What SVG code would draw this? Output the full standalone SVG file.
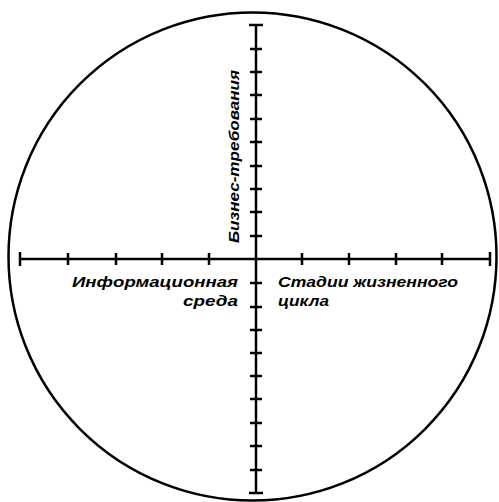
<svg xmlns="http://www.w3.org/2000/svg" width="499" height="502" viewBox="0 0 499 502">
<style>
.ln{stroke:#000;stroke-width:2.5;fill:none}
.tk{stroke:#000;stroke-width:2.5}
.lb{font-family:"Liberation Sans",Arial,sans-serif;font-weight:bold;font-style:italic;font-size:15px;fill:#000}
</style>
<rect width="499" height="502" fill="#fff"/>
<g id="circle"><circle cx="252.5" cy="256.5" r="244" class="ln" stroke-width="3.5"/></g>
<g id="axes">
<line x1="20" y1="259" x2="490" y2="259" class="ln"/>
<line x1="256" y1="25" x2="256" y2="493" class="ln" stroke-width="3"/>
<g class="tk">
<line x1="20" y1="252" x2="20" y2="266"/>
<line x1="68" y1="253" x2="68" y2="265"/>
<line x1="116" y1="253" x2="116" y2="265"/>
<line x1="162" y1="253" x2="162" y2="265"/>
<line x1="209" y1="253" x2="209" y2="265"/>
<line x1="302" y1="253" x2="302" y2="265"/>
<line x1="349" y1="253" x2="349" y2="265"/>
<line x1="396" y1="253" x2="396" y2="265"/>
<line x1="442" y1="253" x2="442" y2="265"/>
<line x1="490" y1="252" x2="490" y2="266"/>
<line x1="249" y1="25" x2="263" y2="25"/>
<line x1="250" y1="49" x2="262" y2="49"/>
<line x1="250" y1="72" x2="262" y2="72"/>
<line x1="250" y1="95" x2="262" y2="95"/>
<line x1="250" y1="119" x2="262" y2="119"/>
<line x1="250" y1="142" x2="262" y2="142"/>
<line x1="250" y1="166" x2="262" y2="166"/>
<line x1="250" y1="189" x2="262" y2="189"/>
<line x1="250" y1="212" x2="262" y2="212"/>
<line x1="250" y1="236" x2="262" y2="236"/>
<line x1="250" y1="283" x2="262" y2="283"/>
<line x1="250" y1="307" x2="262" y2="307"/>
<line x1="250" y1="330" x2="262" y2="330"/>
<line x1="250" y1="353" x2="262" y2="353"/>
<line x1="250" y1="376" x2="262" y2="376"/>
<line x1="250" y1="399" x2="262" y2="399"/>
<line x1="250" y1="423" x2="262" y2="423"/>
<line x1="250" y1="446" x2="262" y2="446"/>
<line x1="250" y1="470" x2="262" y2="470"/>
<line x1="249" y1="493" x2="263" y2="493"/>
</g>
</g>
<g id="label-business">
<text class="lb" transform="translate(239,243) rotate(-90)" textLength="173" lengthAdjust="spacingAndGlyphs">Бизнес-требования</text>
</g>
<g id="label-info">
<text class="lb" x="238" y="287" text-anchor="end" textLength="166" lengthAdjust="spacingAndGlyphs">Информационная</text>
<text class="lb" x="238" y="306" text-anchor="end" textLength="55" lengthAdjust="spacingAndGlyphs">среда</text>
</g>
<g id="label-stages">
<text class="lb" x="278" y="287" textLength="180" lengthAdjust="spacingAndGlyphs">Стадии жизненного</text>
<text class="lb" x="278" y="306" textLength="51" lengthAdjust="spacingAndGlyphs">цикла</text>
</g>
</svg>
